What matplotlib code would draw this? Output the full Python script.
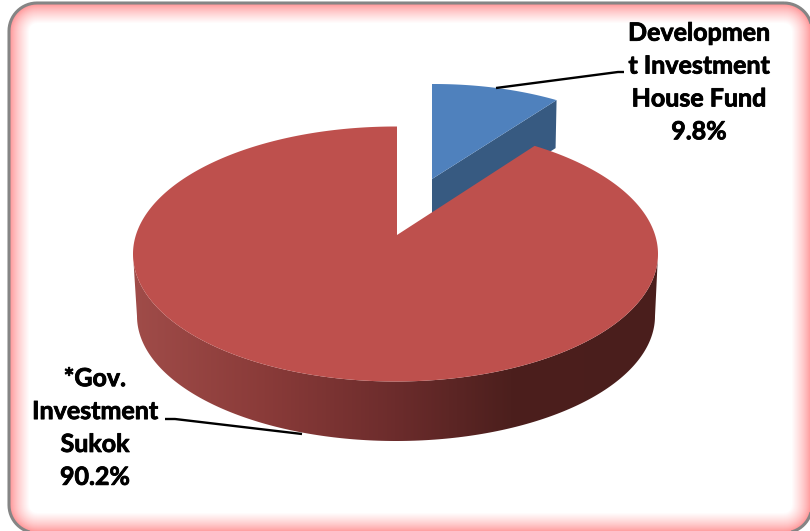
import matplotlib
matplotlib.use("Agg")
import matplotlib.patheffects as pe
import matplotlib.pyplot as plt
import numpy as np
from matplotlib.colors import LinearSegmentedColormap, to_rgb
from matplotlib.patches import Polygon

labels = ["Developmen\nt Investment\nHouse Fund", "*Gov.\nInvestment\nSukok"]
shares = [9.8, 90.2]

W, H = 810, 531
RED_TOP = "#be504d"
BLUE_TOP = "#4f81bd"
BLUE_SIDE = "#375a81"
PINK = "#ff8a8c"
SIDE_STOPS = [(0.0, "#a04c49"), (0.25, "#8a3b39"), (0.5, "#6c2c2c"), (0.72, "#4c1f1d"), (1.0, "#4a1e1c")]

plt.rcParams["font.family"] = ["Lato", "DejaVu Sans"]


def rim_points(apex, center, a, b, th0, th1, n=200):
    """Rays from the apex to an ellipse, so an off-centre apex acts like perspective."""
    th = np.radians(np.linspace(th0, th1, n))
    dx, dy = 1.06 * np.sin(th), -np.cos(th)
    norm = np.hypot(dx, dy)
    dx, dy = dx / norm, dy / norm
    px, py = (apex[0] - center[0]) / a, (apex[1] - center[1]) / b
    pd = px * dx + py * dy
    t = -pd + np.sqrt(pd**2 - (px**2 + py**2 - 1))
    return np.column_stack([center[0] + a * (px + t * dx), center[1] + b * (py + t * dy)])


def arc(center, a, b, n=200):
    phi = np.linspace(np.pi, 0, n)
    return np.column_stack([center[0] + a * np.cos(phi), center[1] + b * np.sin(phi)])


def rounded(inset, r=28):
    x0, y0, x1, y1 = 9 + inset, 3 + inset, 812 - inset, 533 - inset
    r = max(r - inset, 3)
    corners = [(x1 - r, y0 + r, -90), (x1 - r, y1 - r, 0), (x0 + r, y1 - r, 90), (x0 + r, y0 + r, 180)]
    pts = []
    for cx, cy, start in corners:
        phi = np.radians(np.linspace(start, start + 90, 16))
        pts.append(np.column_stack([cx + r * np.cos(phi), cy + r * np.sin(phi)]))
    return np.vstack(pts)


fig = plt.figure(figsize=(W / 100, H / 100), dpi=100)
ax = fig.add_axes([0, 0, 1, 1])

# frame with the soft pink inner glow
glow = 20
pink, white = np.array(to_rgb(PINK)), np.ones(3)
for i in range(glow + 1):
    mix = (i / glow) ** 0.7
    ax.add_patch(Polygon(rounded(i), facecolor=pink * (1 - mix) + white * mix, edgecolor="none"))
ax.add_patch(Polygon(rounded(0), facecolor="none", edgecolor="#858585", linewidth=2.2))

sweep = shares[0] / sum(shares) * 360

# blue slice, pulled out towards the top right
b_apex, b_center, b_a, b_b = (432, 179), (434, 197), 238, 113
b_rim = rim_points(b_apex, b_center, b_a, b_b, 0, sweep, 60)
depth = 48
wall = [b_apex, b_rim[-1], (b_rim[-1][0] - 1, b_rim[-1][1] + depth), (b_apex[0], b_apex[1] + depth)]
ax.add_patch(Polygon(wall, facecolor=BLUE_SIDE, edgecolor="none"))
ax.add_patch(Polygon(np.vstack([b_apex, b_rim]), facecolor=BLUE_TOP, edgecolor="none"))

# red slice
r_apex, r_center, r_a, r_b = (397, 235), (395.5, 254), 262.5, 127.5
r_low_center, r_low_a, r_low_b = (396, 316), 259, 125
upper = arc(r_center, r_a, r_b)
lower = arc(r_low_center, r_low_a, r_low_b)
side = Polygon(np.vstack([upper, lower[::-1]]), facecolor="none", edgecolor="none")
ax.add_patch(side)
cmap = LinearSegmentedColormap.from_list("side", SIDE_STOPS)
grad = ax.imshow(np.linspace(0, 1, 256)[None, :], cmap=cmap, aspect="auto",
                 extent=(133, 658, 445, 250), zorder=1.5)
grad.set_clip_path(side)

r_rim = rim_points(r_apex, r_center, r_a, r_b, sweep, 360, 400)
ax.add_patch(Polygon(np.vstack([r_apex, r_rim]), facecolor=RED_TOP, edgecolor="none", zorder=2))

# leader lines
ax.plot([496, 618, 624], [88, 72, 72], color="black", lw=1.7, zorder=3, solid_capstyle="butt")
ax.plot([165, 175, 302], [419, 419, 434], color="black", lw=1.7, zorder=3, solid_capstyle="butt")

# Lato bold runs a bit light here, thicken it slightly
text_kw = dict(ha="center", va="center", fontsize=18, fontweight="bold", color="black",
               linespacing=1.52, zorder=4,
               path_effects=[pe.withStroke(linewidth=0.6, foreground="black")])
ax.text(699, 82.5, f"{labels[0]}\n{shares[0]}%", **text_kw)
ax.text(95, 428, f"{labels[1]}\n{shares[1]}%", **text_kw)

ax.set_xlim(0, W)
ax.set_ylim(H, 0)
ax.axis("off")
fig.savefig("out.png", dpi=100)
